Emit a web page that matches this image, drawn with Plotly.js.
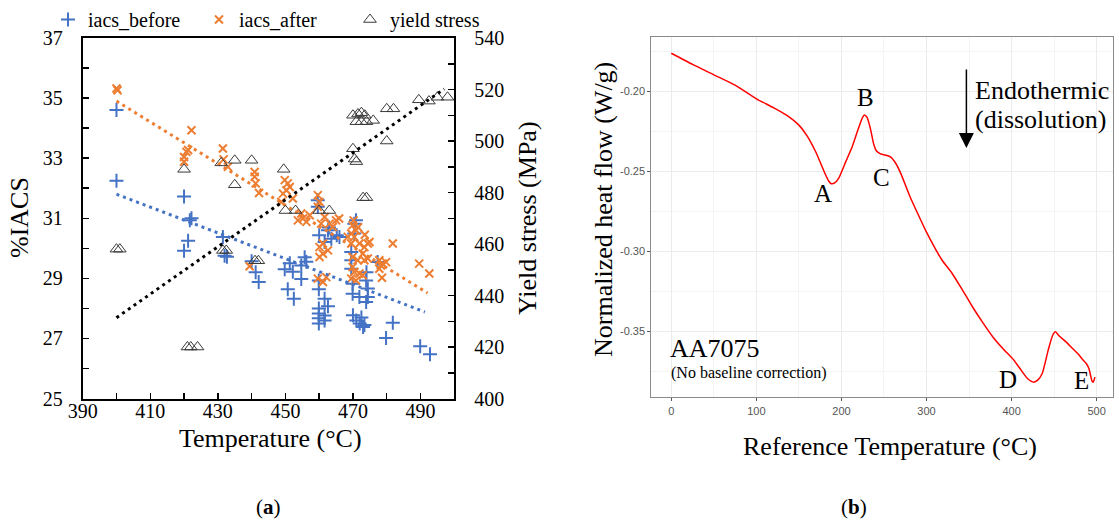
<!DOCTYPE html>
<html>
<head>
<meta charset="utf-8">
<script src="https://cdn.plot.ly/plotly-3.0.1.min.js"></script>
<style>html,body{margin:0;padding:0;background:#fff;}#chart{width:1119px;height:522px;}</style>
</head>
<body>
<div id="chart"></div>
<script>
// ---------- Panel (a) data ----------
const beforeTemp = [400,400,420,422.2,421.7,421.2,420,431.5,432,432.7,440,441.2,442.1,449.8,451.3,452.2,454.7,455.7,456.2,454.7,450.7,452.5,460,461.6,462.6,463.6,465.2,466,459.9,459.9,461.6,462.6,459.9,459.9,459.9,459.9,461.6,461.6,470.4,470.4,469.5,469.5,469.5,469.9,469.9,471.9,473.9,474.4,474.4,473.9,470,471,472,473,472.5,477.3,481.8,479.8,489.9,492.8,459.6,459.6,462.9,470.9,473.4,474];
const beforeIacs = [34.6,32.25,31.72,31.0,30.93,30.25,29.92,30.38,29.75,29.72,29.57,29.2,28.88,29.3,29.5,29.22,29.43,29.7,29.55,28.98,28.64,28.32,30.43,30.21,30.6,30.32,30.43,30.38,28.93,28.64,28.32,28.07,28.0,27.83,27.67,27.5,27.76,27.6,30.82,30.49,29.88,29.6,29.32,28.82,28.49,28.38,28.93,28.66,28.38,28.21,27.77,27.6,27.5,27.38,27.7,29.54,27.52,27.01,26.74,26.47,31.6,31.38,30.69,30.93,27.45,29.2];

const afterTemp = [400,400.3,422.2,420,420.7,420,421.2,431.5,431.7,433,440.9,440.9,441.2,442.2,439.4,449.8,450.3,451.3,449.3,450.7,448.8,452.2,454.7,455.2,456.2,457.2,453.7,459.6,460.1,459.6,461.6,463.1,465,465.9,464,460.6,460.1,461.1,462.6,461.1,460.1,459.6,461.1,462.1,469.5,468.5,469.9,470.9,470.4,469.5,471.9,473.4,474.4,472.9,469.9,471.4,473.4,474.4,469.9,470.4,471.9,469.5,472.9,470.9,474.9,481.8,477.8,478.8,479.8,478.3,477.8,478.6,489.6,492.6,470.2,471.5,473.5];
const afterIacs = [35.32,35.26,33.93,33.04,33.21,32.88,33.27,33.32,32.96,32.71,32.54,32.38,32.16,31.84,29.4,32.27,31.93,32.04,31.82,32.16,31.54,31.66,31.16,30.99,30.88,31.1,30.93,31.77,31.54,31.38,31.04,30.82,30.93,30.99,30.71,30.82,30.04,29.82,29.93,30.16,29.71,28.99,28.88,29.04,30.49,30.38,30.77,30.6,30.38,30.16,30.16,30.04,30.16,29.82,29.71,29.6,29.6,29.66,29.38,29.21,29.16,28.99,29.1,28.93,30.21,30.16,29.6,29.49,29.54,29.43,29.32,29.02,29.49,29.16,30.93,30.7,30.45];

const yieldTemp = [400,401,421,422,424,420,431,435,440,435,431.5,432.5,441,442,449.5,450,453,460,463,470,470.5,471,473,474,470,471.5,472.5,473.5,471,472.5,474,476,480,482,480,489.5,492.5,495,498];
const yieldStress = [458,458,420,420,420,489,491.5,492.5,492.5,483,457.5,457.5,453.5,453.5,489,473,473,473,473,497,493,492,478,478,510,510.5,511,510,507.5,507.5,507.5,508,512.5,512.5,500,516,515.5,517,517];

// trendline end points
const trendBeforeT = [400,491.3], trendBeforeV = [31.8,27.88];
const trendAfterT  = [400,492.1], trendAfterV  = [34.9,28.51];
const trendYieldT  = [400,497],   trendYieldV  = [431.4,520.2];

// ---------- Panel (b) data ----------
const refTemp = [0,25,50,75,100,120,135,150,160,170,180,185,188,192,197,205,213,220,225,227,230,234,238,241,246,252,258,264,270,280,292,300,318,330,342,354,366,378,390,403,412,419,426,431,436,443,448,451.5,456,464,472,478,484,488,491,493,494.5,496,498];
const heatFlow = [-0.1760,-0.1830,-0.1895,-0.1960,-0.2045,-0.2100,-0.2146,-0.2210,-0.2280,-0.2380,-0.2505,-0.2560,-0.2577,-0.2572,-0.2540,-0.2440,-0.2340,-0.2230,-0.2160,-0.2146,-0.2160,-0.2230,-0.2330,-0.2370,-0.2390,-0.2398,-0.2410,-0.2450,-0.2515,-0.2650,-0.2790,-0.2880,-0.3053,-0.3137,-0.3240,-0.3347,-0.3445,-0.3536,-0.3610,-0.3683,-0.3750,-0.3798,-0.3819,-0.3805,-0.3765,-0.3620,-0.3530,-0.3504,-0.3530,-0.3567,-0.3610,-0.3641,-0.3680,-0.3704,-0.3735,-0.3780,-0.3812,-0.3819,-0.3788];
const heatTickVals = [-0.20,-0.25,-0.30,-0.35];
const heatTickText = ['-0.20','-0.25','-0.30','-0.35'];
const refTickVals = [0,100,200,300,400,500];

// ---------- layout helpers ----------
const W = 1119, H = 522;
const px = x => x / W;
const py = y => 1 - y / H;
const SERIF = 'Liberation Serif, Times New Roman, serif';
const SANS = 'Liberation Sans, Arial, sans-serif';
const BLUE = '#4472C4', ORANGE = '#ED7D31';

const traces = [
  {x: beforeTemp, y: beforeIacs, name: 'iacs_before', type: 'scatter', mode: 'markers', xaxis: 'x', yaxis: 'y',
   marker: {symbol: 'cross-thin-open', size: 10, line: {color: BLUE, width: 2}, color: BLUE}},
  {x: afterTemp, y: afterIacs, name: 'iacs_after', type: 'scatter', mode: 'markers', xaxis: 'x', yaxis: 'y',
   marker: {symbol: 'x-thin-open', size: 8, line: {color: ORANGE, width: 2}, color: ORANGE}},
  {x: trendBeforeT, y: trendBeforeV, type: 'scatter', mode: 'lines', showlegend: false, hoverinfo: 'skip', xaxis: 'x', yaxis: 'y',
   line: {color: BLUE, width: 3, dash: '3px,4px'}},
  {x: trendAfterT, y: trendAfterV, type: 'scatter', mode: 'lines', showlegend: false, hoverinfo: 'skip', xaxis: 'x', yaxis: 'y',
   line: {color: ORANGE, width: 3, dash: '3px,4px'}},
  {x: yieldTemp, y: yieldStress, name: 'yield stress', type: 'scatter', mode: 'markers', xaxis: 'x', yaxis: 'y2',
   marker: {symbol: 'triangle-up-open', size: 11, color: '#3a3a3a', line: {color: '#3a3a3a', width: 1}}},
  {x: trendYieldT, y: trendYieldV, type: 'scatter', mode: 'lines', showlegend: false, hoverinfo: 'skip', xaxis: 'x', yaxis: 'y2',
   line: {color: '#000000', width: 3, dash: '3px,4px'}},
  {x: refTemp, y: heatFlow, type: 'scatter', mode: 'lines', showlegend: false, xaxis: 'x3', yaxis: 'y3',
   line: {color: '#FF0000', width: 1.5, shape: 'spline', smoothing: 0.6}}
];

const leftTick = {ticks: 'inside', ticklen: 6, tickwidth: 1.5, tickcolor: '#000'};
const layout = {
  width: W, height: H,
  margin: {l: 0, r: 0, t: 0, b: 0},
  paper_bgcolor: '#fff', plot_bgcolor: 'rgba(0,0,0,0)',
  showlegend: true,
  legend: {orientation: 'h', x: px(48), y: py(0), xanchor: 'left', yanchor: 'top',
           font: {family: SERIF, size: 20, color: '#000'}, bgcolor: 'rgba(0,0,0,0)', itemwidth: 30,
           entrywidth: 106, entrywidthmode: 'pixels'},
  xaxis: Object.assign({domain: [px(82.7), px(454.3)], range: [390, 500], tick0: 390, dtick: 20,
    showline: true, linewidth: 2, linecolor: '#000', mirror: true, showgrid: false, zeroline: false,
    tickfont: {family: SERIF, size: 20, color: '#000'}, ticklabelstandoff: -7,
    minor: {dtick: 10, tick0: 390, ticks: 'inside', ticklen: 6, tickwidth: 1.5, tickcolor: '#000', showgrid: false},
    anchor: 'y'}, leftTick),
  yaxis: Object.assign({domain: [py(398.5), py(38)], range: [25, 37], tick0: 25, dtick: 2,
    showline: true, linewidth: 2, linecolor: '#000', mirror: true, showgrid: false, zeroline: false,
    tickfont: {family: SERIF, size: 20, color: '#000'}, ticklabelstandoff: 14,
    minor: {dtick: 1, tick0: 25, ticks: 'inside', ticklen: 6, tickwidth: 1.5, tickcolor: '#000', showgrid: false},
    anchor: 'x'}, leftTick),
  yaxis2: Object.assign({overlaying: 'y', side: 'right', anchor: 'x', range: [400, 540], tick0: 400, dtick: 20,
    showline: true, linewidth: 2, linecolor: '#000', showgrid: false, zeroline: false,
    tickfont: {family: SERIF, size: 20, color: '#000'}, ticklabelstandoff: 14,
    minor: {dtick: 10, tick0: 400, ticks: 'inside', ticklen: 6, tickwidth: 1.5, tickcolor: '#000', showgrid: false}}, leftTick),
  xaxis3: {domain: [px(651.3), px(1112.8)], range: [-23.5, 519], anchor: 'y3',
    tickvals: refTickVals, ticks: 'outside', ticklen: 3, tickcolor: '#555', tickwidth: 1,
    showline: true, linecolor: '#8a8a8a', linewidth: 1, mirror: true, zeroline: false,
    showgrid: true, gridcolor: '#EBEBEB', gridwidth: 1,
    minor: {dtick: 50, tick0: 0, showgrid: true, gridcolor: '#F4F4F4', gridwidth: 1},
    tickfont: {family: SANS, size: 11, color: '#555'}},
  yaxis3: {domain: [py(397.3), py(37.3)], range: [-0.3914, -0.166], anchor: 'x3',
    tickvals: heatTickVals, ticktext: heatTickText, ticks: 'outside', ticklen: 3, tickcolor: '#555', tickwidth: 1,
    showline: true, linecolor: '#8a8a8a', linewidth: 1, mirror: true, zeroline: false,
    showgrid: true, gridcolor: '#EBEBEB', gridwidth: 1,
    minor: {dtick: 0.025, tick0: -0.2, showgrid: true, gridcolor: '#F4F4F4', gridwidth: 1},
    tickfont: {family: SANS, size: 11, color: '#555'}},
  annotations: []
};

function note(text, x, y, size, opts) {
  layout.annotations.push(Object.assign({text: text, x: px(x), y: py(y), xref: 'paper', yref: 'paper',
    showarrow: false, xanchor: 'center', yanchor: 'middle',
    font: {family: SERIF, size: size, color: '#000'}}, opts || {}));
}
// panel (a) titles
note('%IACS', 20, 218, 26, {textangle: -90});
note('Yield stress (MPa)', 528, 218, 26, {textangle: -90});
note('Temperature (°C)', 270, 438, 26);
note('(<b>a</b>)', 268, 507, 21);
// panel (b) titles
note('Normalized heat flow (W/g)', 603, 210, 26, {textangle: -90});
note('Reference Temperature (°C)', 890, 446, 26);
note('(<b>b</b>)', 854, 507, 21);
// panel (b) labels
note('A', 823, 193, 25);
note('B', 865, 97, 25);
note('C', 881, 177, 25);
note('D', 1008, 379, 25);
note('E', 1081, 380, 25);
note('Endothermic', 973, 90, 26, {xanchor: 'left'});
note('(dissolution)', 973, 120, 26, {xanchor: 'left'});
note('AA7075', 668, 348, 26, {xanchor: 'left'});
note('(No baseline correction)', 669, 373, 16, {xanchor: 'left'});
layout.annotations.push({x: px(966.4), y: py(148), xref: 'paper', yref: 'paper', ax: 0, ay: -80,
  axref: 'pixel', ayref: 'pixel', text: '', showarrow: true, arrowhead: 2, arrowsize: 2, arrowwidth: 1.5, arrowcolor: '#000'});

Plotly.newPlot('chart', traces, layout, {displayModeBar: false, staticPlot: true});
</script>
</body>
</html>
